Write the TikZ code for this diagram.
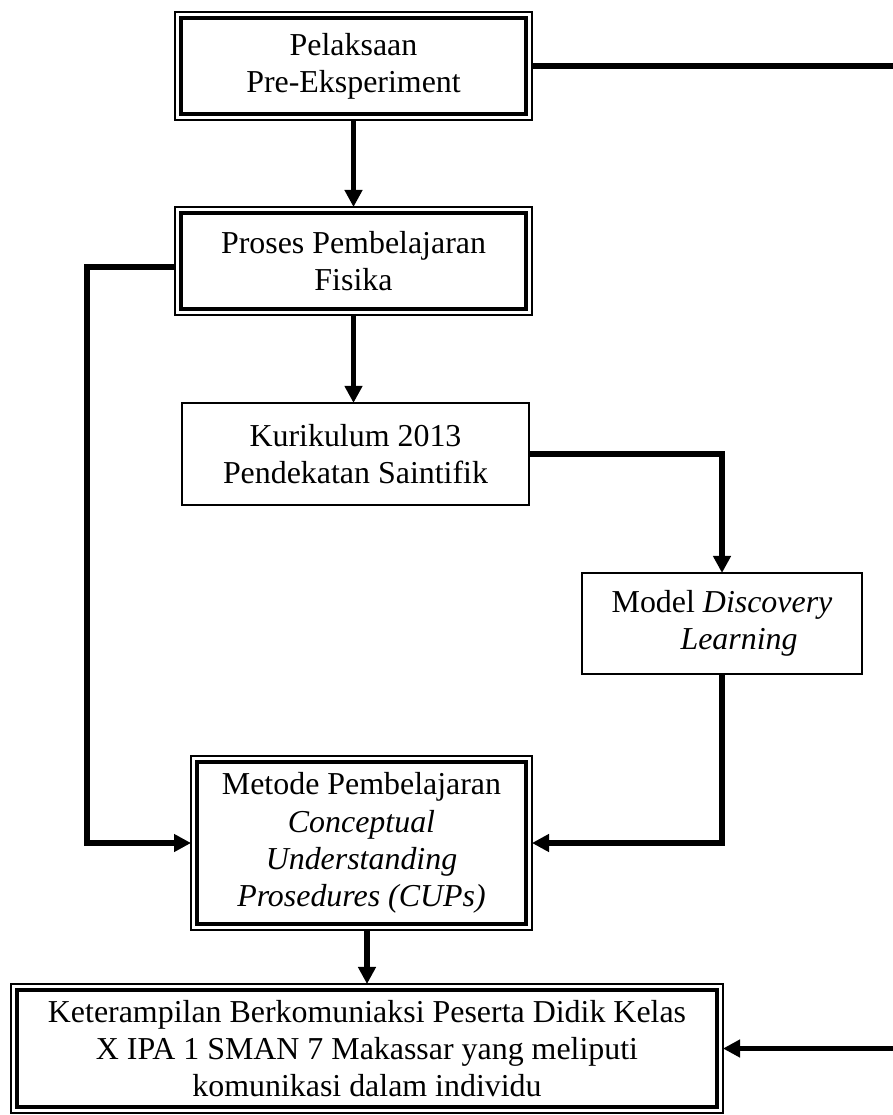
\documentclass[tikz,border=0pt]{standalone}
\usepackage{fontspec}
\setmainfont{Liberation Serif}
\usetikzlibrary{arrows.meta}
\begin{document}
\begin{tikzpicture}[x=0.376pt,y=-0.376pt,
  every node/.style={outer sep=0pt, inner sep=0pt, align=center,
    font=\fontsize{12pt}{14pt}\selectfont},
  dblbox/.style={draw, line width=0.5pt},
  plainbox/.style={draw, line width=0.8pt},
  innerline/.style={line width=1.6pt},
  arr/.style={line width=2pt, -{Triangle[width=6.4pt,length=6.4pt]}},
  conn/.style={line width=2pt}]
\useasboundingbox (0,0) rectangle (892,1115);

\node[dblbox, minimum width=134.2pt, minimum height=40.6pt] (pel) at (353.5,66)
  {Pelaksaan\\Pre-Eksperiment};
\node[dblbox, minimum width=134.2pt, minimum height=40.6pt] (pro) at (353.5,261)
  {Proses Pembelajaran\\Fisika};
\node[plainbox, minimum width=130.5pt, minimum height=38.4pt] (kur) at (355.5,454)
  {Kurikulum 2013\\Pendekatan Saintifik};
\node[plainbox, minimum width=105.3pt, minimum height=38pt] (mod) at (722,623.5)
  {Model \textit{Discovery}\\\hspace*{12.8pt}\textit{Learning}};
\node[dblbox, minimum width=128.2pt, minimum height=65.4pt] (met) at (361.5,843)
  {Metode Pembelajaran\\\textit{Conceptual}\\\textit{Understanding}\\\textit{Prosedures (CUPs)}};
\node[dblbox, minimum width=267.7pt, minimum height=48.5pt] (ket) at (367,1048.5)
  {Keterampilan Berkomuniaksi Peserta Didik Kelas\\X IPA 1 SMAN 7 Makassar yang meliputi\\komunikasi dalam individu};

\foreach \n in {pel,pro,met,ket}
  \draw[innerline] ([xshift=2.15pt,yshift=-2.15pt]\n.north west) rectangle
                   ([xshift=-2.15pt,yshift=2.15pt]\n.south east);

\coordinate (lft) at (87,0);
\coordinate (rt) at (910,0);

\draw[arr] (pel.south) -- (pro.north);
\draw[arr] (pro.south) -- (pro.south |- kur.north);
\draw[arr] (kur.east) -| (mod.north);
\draw[arr] (mod.south) |- (met.east);
\draw[arr] (pro.west |- 0,267) -| (lft |- met.west) -- (met.west);
\draw[arr] (met.south -| ket.north) -- (ket.north);
\draw[arr] (pel.east) -| (rt |- ket.east) -- (ket.east);
\end{tikzpicture}
\end{document}
